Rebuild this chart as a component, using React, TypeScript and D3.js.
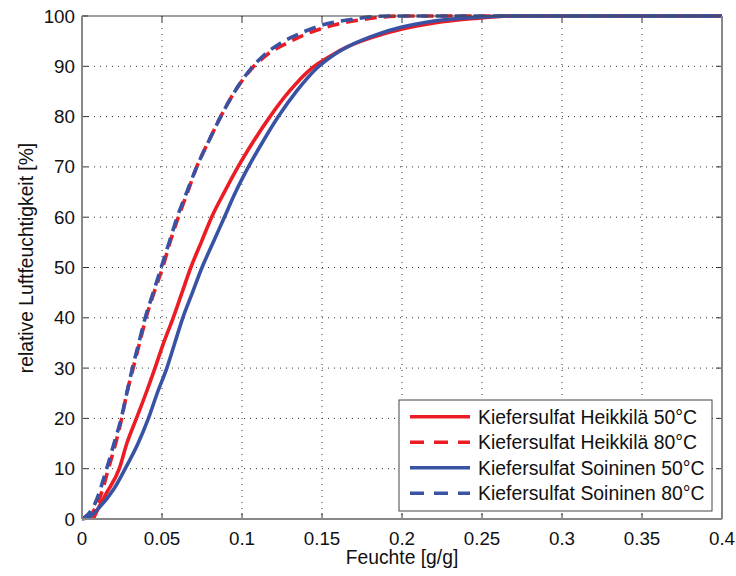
import React from "react";
import * as d3 from "d3";

const xTicks = [0, 0.05, 0.1, 0.15, 0.2, 0.25, 0.3, 0.35, 0.4];
const yTicks = [0, 10, 20, 30, 40, 50, 60, 70, 80, 90, 100];

const heikkila50: [number, number][] = [
  [0.007, 0], [0.010, 2], [0.015, 5], [0.0233, 10], [0.028, 15], [0.034, 20], [0.040, 25],
  [0.0456, 30], [0.051, 35], [0.057, 40], [0.0625, 45], [0.068, 50], [0.0745, 55], [0.081, 60],
  [0.089, 65], [0.0975, 70], [0.107, 75], [0.1175, 80], [0.1295, 85], [0.1435, 89.6], [0.155, 92],
  [0.166, 93.9], [0.180, 95.6], [0.200, 97.4], [0.220, 98.6], [0.245, 99.5], [0.270, 100], [0.4, 100],
];
const heikkila80: [number, number][] = [
  [0.004, 0], [0.008, 2], [0.012, 5], [0.0165, 10], [0.021, 15], [0.0248, 20], [0.028, 25],
  [0.032, 30], [0.036, 35], [0.040, 40], [0.045, 45], [0.0504, 50], [0.055, 55], [0.0602, 60],
  [0.066, 65], [0.0717, 70], [0.079, 75], [0.0867, 80], [0.0955, 85], [0.106, 89.5], [0.116, 92.4],
  [0.128, 94.6], [0.140, 96.4], [0.156, 98.1], [0.175, 99.3], [0.200, 100], [0.4, 100],
];
const soininen50: [number, number][] = [
  [0, 0], [0.005, 0.5], [0.010, 2], [0.020, 6], [0.027, 10], [0.035, 15], [0.0415, 20],
  [0.047, 25], [0.053, 30], [0.058, 35], [0.063, 40], [0.069, 45], [0.075, 50], [0.082, 55],
  [0.089, 60], [0.096, 65], [0.104, 70], [0.113, 75], [0.1227, 80], [0.134, 85], [0.1467, 89.6],
  [0.158, 92.4], [0.170, 94.5], [0.185, 96.4], [0.200, 97.8], [0.220, 99], [0.250, 99.8], [0.265, 100], [0.4, 100],
];
const soininen80: [number, number][] = [
  [0, 0], [0.004, 1], [0.008, 3], [0.0154, 10], [0.020, 15], [0.0245, 20], [0.028, 25],
  [0.0315, 30], [0.0355, 35], [0.0395, 40], [0.0445, 45], [0.0495, 50], [0.0545, 55], [0.0595, 60],
  [0.0655, 65], [0.0717, 70], [0.079, 75], [0.0867, 80], [0.0955, 85], [0.1055, 89.5], [0.114, 92.3],
  [0.124, 94.6], [0.136, 96.5], [0.150, 98.2], [0.166, 99.2], [0.190, 100], [0.4, 100],
];

const seriesNames = [
  "Kiefersulfat Heikkilä 50°C",
  "Kiefersulfat Heikkilä 80°C",
  "Kiefersulfat Soininen 50°C",
  "Kiefersulfat Soininen 80°C",
];

const RED = "#ec1c24";
const BLUE = "#3953a4";

export default function App() {
  const W = 736, H = 576;
  const L = 82, R = 722, T = 16, B = 519;
  const x = d3.scaleLinear().domain([0, 0.4]).range([L, R]);
  const y = d3.scaleLinear().domain([0, 100]).range([B, T]);
  const line = d3.line<[number, number]>().x(d => x(d[0])).y(d => y(d[1])).curve(d3.curveMonotoneX);
  const font = "'Liberation Sans', Arial, Helvetica, sans-serif";
  const series = [
    { data: heikkila50, color: RED, dash: null },
    { data: heikkila80, color: RED, dash: "12 7" },
    { data: soininen50, color: BLUE, dash: null },
    { data: soininen80, color: BLUE, dash: "12 7" },
  ];
  const legX = 399, legY = 400, legW = 313, legH = 111;
  return (
    <svg width={W} height={H} style={{ position: "absolute", left: 0, top: 0, background: "#fff" }} fontFamily={font}>
      <rect x={0} y={0} width={W} height={H} fill="#fff" />
      {/* grid */}
      {xTicks.slice(1, -1).map(t => (
        <line key={"gx" + t} x1={x(t)} x2={x(t)} y1={T} y2={B} stroke="#333" strokeWidth={1} strokeDasharray="1 5" />
      ))}
      {yTicks.slice(1, -1).map(t => (
        <line key={"gy" + t} x1={L} x2={R} y1={y(t)} y2={y(t)} stroke="#333" strokeWidth={1} strokeDasharray="1 5" />
      ))}
      {/* ticks */}
      {xTicks.map(t => (
        <g key={"tx" + t}>
          <line x1={x(t)} x2={x(t)} y1={B} y2={B - 6} stroke="#333" />
          <line x1={x(t)} x2={x(t)} y1={T} y2={T + 6} stroke="#333" />
          <text x={x(t)} y={545} textAnchor="middle" fontSize={18.8} fill="#111">{String(t)}</text>
        </g>
      ))}
      {yTicks.map(t => (
        <g key={"ty" + t}>
          <line x1={L} x2={L + 6} y1={y(t)} y2={y(t)} stroke="#333" />
          <line x1={R} x2={R - 6} y1={y(t)} y2={y(t)} stroke="#333" />
          <text x={75} y={y(t) + 6.5} textAnchor="end" fontSize={18.8} fill="#111">{String(t)}</text>
        </g>
      ))}
      {/* series */}
      <g>
        {series.map((s, i) => (
          <path key={i} d={line(s.data) || ""} fill="none" stroke={s.color} strokeWidth={3.6}
            strokeDasharray={s.dash || undefined} strokeLinejoin="round" />
        ))}
      </g>
      {/* frame */}
      <line x1={L} x2={R} y1={T} y2={T} stroke="#444" strokeWidth={1.2} />
      <line x1={R} x2={R} y1={T} y2={B} stroke="#888" strokeWidth={2} />
      <line x1={L} x2={R} y1={B} y2={B} stroke="#888" strokeWidth={2} />
      <line x1={L} x2={L} y1={T} y2={B} stroke="#888" strokeWidth={2} />
      {/* legend */}
      <rect x={legX} y={legY} width={legW} height={legH} fill="#fff" stroke="#444" strokeWidth={1} />
      {series.map((s, i) => {
        const ly = 416.7 + i * 25.5;
        return (
          <g key={"lg" + i}>
            <line x1={410} x2={470} y1={ly} y2={ly} stroke={s.color} strokeWidth={3.6}
              strokeDasharray={s.dash ? "14 10" : undefined} />
            <text x={478} y={ly + 7} fontSize={19.4} fill="#111">{seriesNames[i]}</text>
          </g>
        );
      })}
      {/* axis titles */}
      <text x={(L + R) / 2} y={564} textAnchor="middle" fontSize={19.3} fill="#111">Feuchte [g/g]</text>
      <text transform={`translate(33,258) rotate(-90)`} textAnchor="middle" fontSize={19.3} fill="#111">relative Luftfeuchtigkeit [%]</text>
    </svg>
  );
}
